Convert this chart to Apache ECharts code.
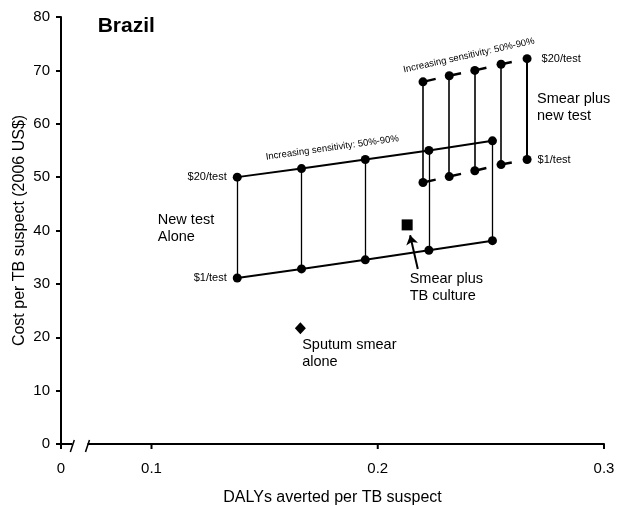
<!DOCTYPE html>
<html>
<head>
<meta charset="utf-8">
<script src="https://cdn.jsdelivr.net/npm/echarts@6/dist/echarts.min.js"></script>
<style>
html,body{margin:0;padding:0;background:#fff;overflow:hidden;}
#chart{width:618px;height:506px;}
</style>
</head>
<body>
<div id="chart"></div>
<script>
// ---- data ----
const newTestX      = [0.1379, 0.1663, 0.1945, 0.2226, 0.2507];
const newTest20     = [50.0, 51.6, 53.3, 55.0, 56.8];
const newTest1      = [31.1, 32.8, 34.5, 36.3, 38.1];
const smearNewX     = [0.2200, 0.2316, 0.2429, 0.2545, 0.2660];
const smearNew20    = [67.85, 69.0, 70.0, 71.15, 72.2];
const smearNew1     = [49.0, 50.1, 51.2, 52.35, 53.3];
const smearCulture  = [0.2130, 41.05];
const sputumSmear   = [0.1658, 21.7];
const arrowFrom     = [0.2177, 32.8];
const arrowTo       = [0.2143, 39.1];
const xTickValues   = [0.06, 0.1, 0.2, 0.3];
const xTickText     = ['0', '0.1', '0.2', '0.3'];
const xBreakAt      = [0.0650, 0.0717];

const FONT = "'Liberation Sans', Arial, sans-serif";

function labelled(xs, ys, idx, text, pos, dist) {
  return xs.map((x, i) => {
    if (i !== idx) return [x, ys[i]];
    return { value: [x, ys[i]], label: { show: true, formatter: text, position: pos, distance: dist,
      fontFamily: FONT, fontSize: 11, color: '#000' } };
  });
}

const verticals = [];
newTestX.forEach((x, i) => verticals.push({ coords: [[x, newTest1[i]], [x, newTest20[i]]], lineStyle: { width: 1.3 } }));
smearNewX.forEach((x, i) => verticals.push({ coords: [[x, smearNew1[i]], [x, smearNew20[i]]], lineStyle: { width: i === smearNewX.length - 1 ? 2 : 1.6 } }));

const annotations = [
  { value: [0.0762, 78.2], text: 'Brazil', pos: 'right', size: 21, weight: 'bold', rot: 0 },
  { value: [0.1028, 40.35], text: 'New test\nAlone', pos: 'right', size: 14.5, rot: 0 },
  { value: [0.2704, 63.1], text: 'Smear plus\nnew test', pos: 'right', size: 14.5, rot: 0 },
  { value: [0.2141, 29.4], text: 'Smear plus\nTB culture', pos: 'right', size: 14.5, rot: 0 },
  { value: [0.1666, 17.0], text: 'Sputum smear\nalone', pos: 'right', size: 14.5, rot: 0 },
  { value: [0.1799, 55.5], text: 'Increasing sensitivity: 50%-90%', pos: 'inside', size: 9.5, rot: 8 },
  { value: [0.2403, 72.8], text: 'Increasing sensitivity: 50%-90%', pos: 'inside', size: 9.5, rot: 12.5 }
];

const pointStyle = { symbol: 'circle', symbolSize: 9, itemStyle: { color: '#000', opacity: 1 } };

const chart = echarts.init(document.getElementById('chart'), null, { renderer: 'canvas', width: 618, height: 506 });
chart.setOption({
  backgroundColor: '#fff',
  animation: false,
  grid: { left: 61, right: 14, top: 17, bottom: 62, containLabel: false, outerBoundsMode: 'none' },
  xAxis: {
    type: 'value', min: 0.06, max: 0.3, interval: 0.02,
    splitLine: { show: false },
    axisLine: { show: true, lineStyle: { color: '#000', width: 2 } },
    axisTick: { show: false },
    axisLabel: {
      margin: 17, fontFamily: FONT, fontSize: 15, color: '#000',
      formatter: v => { const k = xTickValues.findIndex(t => Math.abs(t - v) < 1e-6); return k >= 0 ? xTickText[k] : ''; }
    },
    name: 'DALYs averted per TB suspect', nameLocation: 'middle', nameGap: 46, nameMoveOverlap: false,
    nameTextStyle: { fontFamily: FONT, fontSize: 16, color: '#000' }
  },
  yAxis: {
    type: 'value', min: 0, max: 80, interval: 10,
    splitLine: { show: false },
    axisLine: { show: true, lineStyle: { color: '#000', width: 2 } },
    axisTick: { show: true, length: 5, lineStyle: { color: '#000', width: 2 } },
    axisLabel: { margin: 11, fontFamily: FONT, fontSize: 15, color: '#000' },
    name: 'Cost per TB suspect (2006 US$)', nameLocation: 'middle', nameGap: 33, nameMoveOverlap: false,
    nameTextStyle: { fontFamily: FONT, fontSize: 16, color: '#000' }
  },
  series: [
    { type: 'lines', coordinateSystem: 'cartesian2d', z: 1, silent: true,
      lineStyle: { color: '#000', width: 1.3, opacity: 1 }, data: verticals },
    Object.assign({ type: 'line', z: 3, lineStyle: { color: '#000', width: 2 },
      data: labelled(newTestX, newTest20, 0, '$20/test', 'left', 6) }, pointStyle),
    Object.assign({ type: 'line', z: 3, lineStyle: { color: '#000', width: 2 },
      data: labelled(newTestX, newTest1, 0, '$1/test', 'left', 6) }, pointStyle),
    Object.assign({ type: 'line', z: 3, lineStyle: { color: '#000', width: 2.5, type: [13, 13], dashOffset: 0 },
      data: labelled(smearNewX, smearNew20, smearNewX.length - 1, '$20/test', 'right', 10) }, pointStyle),
    Object.assign({ type: 'line', z: 3, lineStyle: { color: '#000', width: 2.5, type: [13, 13], dashOffset: 0 },
      data: labelled(smearNewX, smearNew1, smearNewX.length - 1, '$1/test', 'right', 6) }, pointStyle),
    { type: 'scatter', z: 4, symbol: 'rect', symbolSize: 11, itemStyle: { color: '#000', opacity: 1 }, data: [smearCulture] },
    { type: 'scatter', z: 4, symbol: 'diamond', symbolSize: [11, 12], itemStyle: { color: '#000', opacity: 1 }, data: [sputumSmear] },
    { type: 'lines', coordinateSystem: 'cartesian2d', z: 4, silent: true,
      symbol: ['none', 'arrow'], symbolSize: 9,
      lineStyle: { color: '#000', width: 2, opacity: 1 }, data: [{ coords: [arrowFrom, arrowTo] }] },
    { type: 'scatter', z: 5, silent: true, symbolSize: 0, itemStyle: { opacity: 1 },
      data: annotations.map(a => ({ value: a.value, label: {
        show: true, formatter: a.text, position: a.pos, distance: 0, rotate: a.rot,
        align: a.pos === 'inside' ? 'center' : 'left', verticalAlign: 'middle',
        fontFamily: FONT, fontSize: a.size, fontWeight: a.weight || 'normal',
        lineHeight: Math.round(a.size * 1.2), color: '#000', opacity: 1 } })) },
    { type: 'custom', z: 6, silent: true, clip: false,
      data: xTickValues.map(v => [v, 0]),
      renderItem: (params, api) => {
        const p = api.coord([api.value(0), api.value(1)]);
        return { type: 'line', shape: { x1: p[0], y1: p[1], x2: p[0], y2: p[1] + 5 },
          style: { stroke: '#000', lineWidth: 2 } };
      } },
    { type: 'custom', z: 7, silent: true, clip: false,
      data: [[xBreakAt[0], 0, xBreakAt[1]]],
      renderItem: (params, api) => {
        const a = api.coord([api.value(0), api.value(1)]);
        const b = api.coord([api.value(2), api.value(1)]);
        return { type: 'group', children: [
          { type: 'rect', shape: { x: a[0], y: a[1] - 2, width: b[0] - a[0], height: 4 }, style: { fill: '#fff' } },
          { type: 'line', shape: { x1: a[0] - 2, y1: a[1] + 8, x2: a[0] + 2, y2: a[1] - 4 }, style: { stroke: '#000', lineWidth: 1.5 } },
          { type: 'line', shape: { x1: b[0] - 2, y1: b[1] + 8, x2: b[0] + 2, y2: b[1] - 4 }, style: { stroke: '#000', lineWidth: 1.5 } }
        ] };
      } }
  ]
});
</script>
</body>
</html>
